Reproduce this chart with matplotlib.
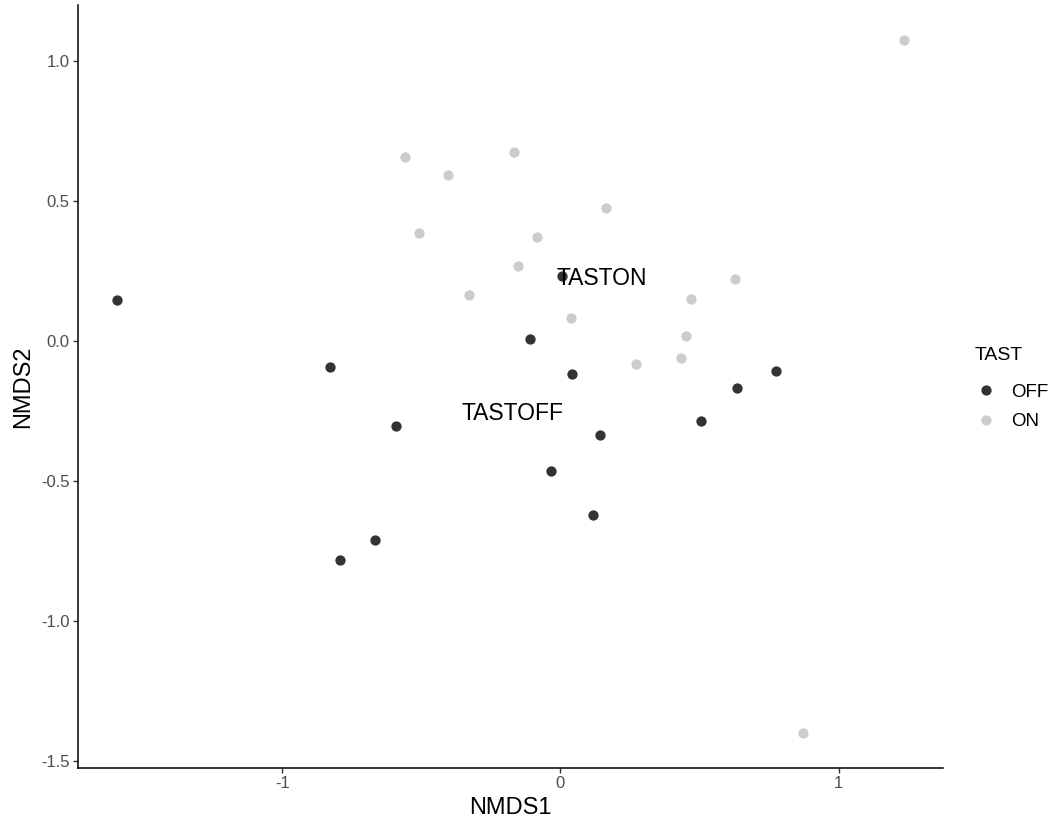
import matplotlib
matplotlib.use("Agg")
import matplotlib.pyplot as plt
from matplotlib.lines import Line2D

plt.rcParams["font.family"] = ["Liberation Sans", "DejaVu Sans"]

# ── NMDS scores ────────────────────────────────────────────────────────
off_x = [-1.593, -0.829, -0.593, -0.668, -0.794, -0.109, 0.041, 0.141,
         -0.033, 0.116, 0.504, 0.633, 0.774, 0.005]
off_y = [0.147, -0.094, -0.304, -0.710, -0.783, 0.006, -0.119, -0.335,
         -0.465, -0.620, -0.286, -0.169, -0.105, 0.233]

on_x = [-0.558, -0.166, -0.404, 0.163, -0.509, -0.085, -0.152, -0.327,
        0.038, 0.628, 0.469, 0.451, 0.433, 0.270, 1.234, 0.872]
on_y = [0.656, 0.675, 0.594, 0.475, 0.388, 0.372, 0.267, 0.165,
        0.084, 0.223, 0.149, 0.018, -0.059, -0.080, 1.077, -1.400]

# group centroid labels
lab_text = ["TASTON", "TASTOFF"]
lab_x = [0.147, -0.171]
lab_y = [0.224, -0.259]

groups = ["OFF", "ON"]
colors = {"OFF": "#333333", "ON": "#CCCCCC"}

x_ticks = [-1, 0, 1]
y_ticks = [-1.5, -1.0, -0.5, 0.0, 0.5, 1.0]

# ── figure ──────────────────────────────────────────────────────────────
fig = plt.figure(figsize=(10.57, 8.22), dpi=100)
ax = fig.add_axes([0.0738, 0.066, 0.8184, 0.928])

ax.scatter(off_x, off_y, s=55, color=colors["OFF"], linewidths=0, zorder=2)
ax.scatter(on_x, on_y, s=55, color=colors["ON"], linewidths=0, zorder=2)

for t, x, y in zip(lab_text, lab_x, lab_y):
    ax.text(x, y, t, fontsize=16.5, ha="center", va="center", color="black", zorder=3)

# ggplot-style 5% expansion
all_x = off_x + on_x
all_y = off_y + on_y
dx = (max(all_x) - min(all_x)) * 0.05
dy = (max(all_y) - min(all_y)) * 0.05
ax.set_xlim(min(all_x) - dx, max(all_x) + dx)
ax.set_ylim(min(all_y) - dy, max(all_y) + dy)

ax.set_xticks(x_ticks)
ax.set_xticklabels([str(v) for v in x_ticks])
ax.set_yticks(y_ticks)
ax.set_yticklabels([f"{v:.1f}" for v in y_ticks])

for side in ("top", "right"):
    ax.spines[side].set_visible(False)
for side in ("left", "bottom"):
    ax.spines[side].set_linewidth(1.1)
    ax.spines[side].set_color("black")

ax.tick_params(axis="both", length=3.6, width=1.0, color="#333333",
               labelsize=12, labelcolor="#4D4D4D", pad=2.5)

ax.set_xlabel("NMDS1", fontsize=17, labelpad=4)
ax.set_ylabel("NMDS2", fontsize=17, labelpad=5)

# ── legend (title drawn separately for ggplot-like spacing) ─────────────
fig.text(0.9224, 0.5675, "TAST", fontsize=14, ha="left", va="center")
handles = [Line2D([], [], marker="o", linestyle="", markersize=7.4,
                  markerfacecolor=colors[g], markeredgewidth=0, label=g)
           for g in groups]
fig.legend(handles=handles, loc="upper left",
           bbox_to_anchor=(0.9235, 0.5335), frameon=False,
           fontsize=13.5, handlelength=1.0, handletextpad=0.85,
           labelspacing=0.68, borderpad=0, borderaxespad=0)

fig.savefig("out.png", dpi=100)
